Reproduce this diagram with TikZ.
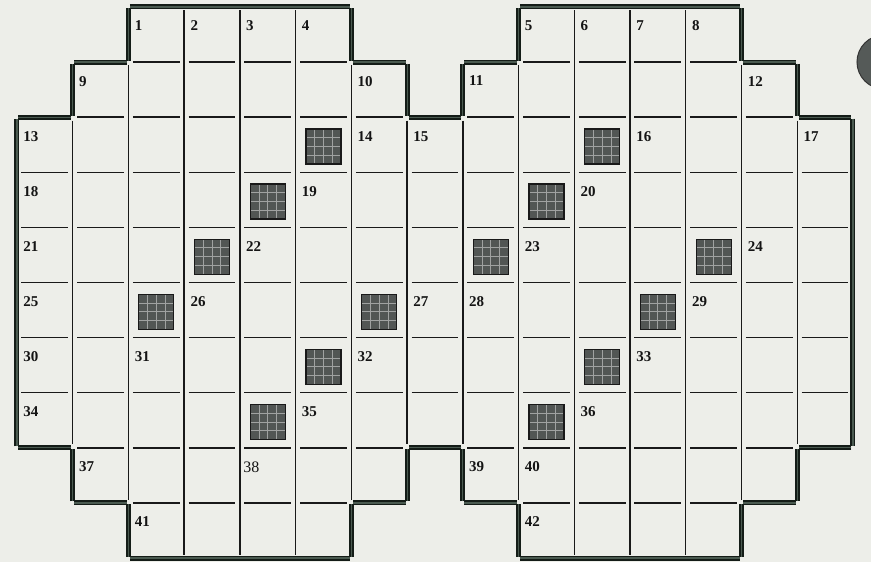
\documentclass[tikz,border=0pt]{standalone}
\usepackage{fontspec}
\setmainfont{Liberation Serif}
\usetikzlibrary{calc}
\definecolor{paper}{HTML}{EDEEE9}
\definecolor{wallink}{HTML}{141C17}
\definecolor{wallmid}{HTML}{4A5A50}
\definecolor{blockgray}{HTML}{525654}
\definecolor{holegray}{HTML}{555A58}
\tikzset{
  gridline/.style={line width=1.4pt, draw=black!90},
  wallbar/.style={draw=wallink, line width=1.9pt, double=wallmid, double distance=1.2pt, shorten >=1.5pt, shorten <=1.5pt},
  cellnum/.style={anchor=north west, inner sep=0pt, font=\fontsize{15}{15}\selectfont\bfseries, text=black!92},
  blockbox/.style={draw=black!90, line width=1.2pt, fill=blockgray, minimum width=35pt, minimum height=35pt, inner sep=0pt,
    path picture={
      \foreach \k in {0.25,0.5,0.75}{
        \draw[white!45!blockgray, line width=0.8pt]
          ($(path picture bounding box.north west)!\k!(path picture bounding box.north east)$) --
          ($(path picture bounding box.south west)!\k!(path picture bounding box.south east)$)
          ($(path picture bounding box.north west)!\k!(path picture bounding box.south west)$) --
          ($(path picture bounding box.north east)!\k!(path picture bounding box.south east)$);
      }}},
}

\begin{document}
\begin{tikzpicture}[x=55.73pt, y=-55.1pt]
  \path[use as bounding box, fill=paper] (-0.305,-0.127) rectangle (15.324,10.073);
  % thin rules between cells
  \foreach \r/\cl in {1/{2,3,4,5,9,10,11,12}, 2/{1,2,3,4,5,6,8,9,10,11,12,13},
                      8/{1,2,3,4,5,6,8,9,10,11,12,13}, 9/{2,3,4,5,9,10,11,12}}
    \foreach \c in \cl
      \draw[gridline] (\c+0.08,\r) -- (\c+0.92,\r);
  \foreach \r in {3,...,7}
    \foreach \c in {0,...,14}
      \draw[gridline] (\c+0.08,\r) -- (\c+0.92,\r);
  \foreach \c/\a/\b in {1/2/8, 2/1/9, 3/0/10, 4/0/10, 5/0/10, 6/1/9, 7/2/8,
                        8/2/8, 9/1/9, 10/0/10, 11/0/10, 12/0/10, 13/1/9, 14/2/8}
    \draw[gridline] (\c,\a+0.06) -- (\c,\b-0.06);
  % outer walls
  \foreach \xa/\ya/\xb/\yb in {2/0/6/0, 6/0/6/1, 6/1/7/1, 7/1/7/2, 7/2/8/2, 8/2/8/1, 8/1/9/1, 9/1/9/0,
      9/0/13/0, 13/0/13/1, 13/1/14/1, 14/1/14/2, 14/2/15/2, 15/2/15/8, 15/8/14/8, 14/8/14/9,
      14/9/13/9, 13/9/13/10, 13/10/9/10, 9/10/9/9, 9/9/8/9, 8/9/8/8, 8/8/7/8, 7/8/7/9,
      7/9/6/9, 6/9/6/10, 6/10/2/10, 2/10/2/9, 2/9/1/9, 1/9/1/8, 1/8/0/8, 0/8/0/2,
      0/2/1/2, 1/2/1/1, 1/1/2/1, 2/1/2/0}
    \draw[wallbar] (\xa,\ya) -- (\xb,\yb);
  % shaded blocks
  \foreach \c/\r [count=\i] in {5/2, 10/2, 4/3, 9/3, 3/4, 8/4, 12/4, 2/5, 6/5, 11/5, 5/6, 10/6, 4/7, 9/7}
    \node[blockbox] (blk\i) at (\c+0.5,\r+0.53) {};
  % cell numbers
  \foreach \c/\r/\t in {2/0/1, 3/0/2, 4/0/3, 5/0/4, 9/0/5, 10/0/6, 11/0/7, 12/0/8,
      1/1/9, 6/1/10, 8/1/11, 13/1/12, 0/2/13, 6/2/14, 7/2/15, 11/2/16, 14/2/17,
      0/3/18, 5/3/19, 10/3/20, 0/4/21, 4/4/22, 9/4/23, 13/4/24,
      0/5/25, 3/5/26, 7/5/27, 8/5/28, 12/5/29, 0/6/30, 2/6/31, 6/6/32, 11/6/33,
      0/7/34, 5/7/35, 10/7/36, 1/8/37, 8/8/39, 9/8/40, 2/9/41, 9/9/42}
    \node[cellnum] (num\t) at (\c+0.11,\r+0.25) {\t};
  \node[cellnum, font=\fontsize{16}{16}\selectfont] (num38) at (4.06,8.25) {38};
  % punch hole at the edge
  \filldraw[fill=holegray, draw=black!80, line width=1pt] (15.557,0.998) circle (27pt);
\end{tikzpicture}
\end{document}
